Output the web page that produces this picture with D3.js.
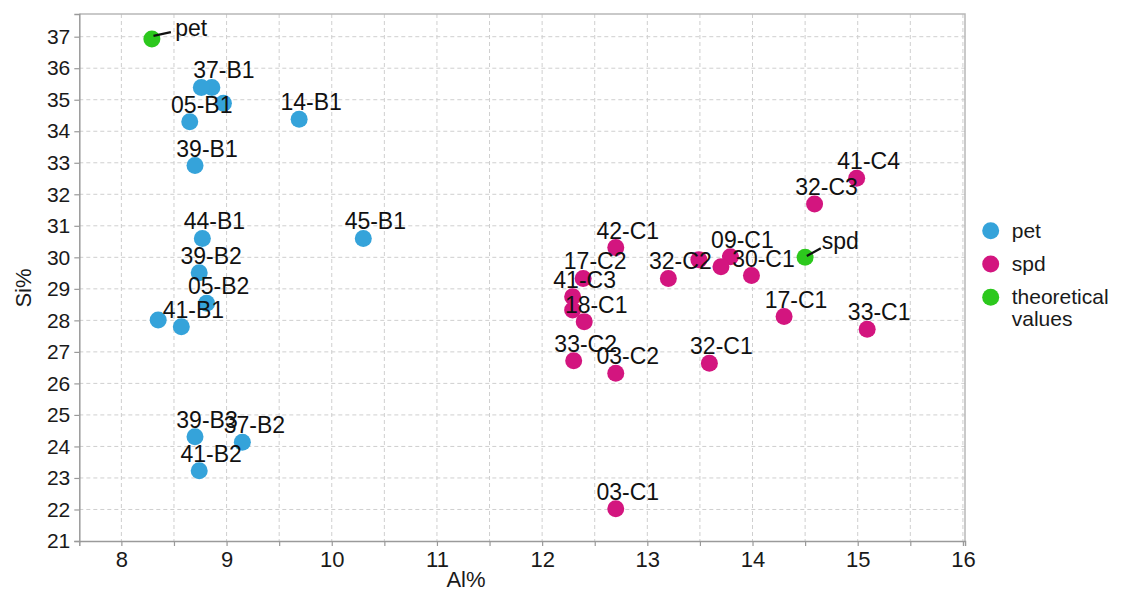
<!DOCTYPE html>
<html>
<head>
<meta charset="utf-8">
<script src="https://cdn.jsdelivr.net/npm/d3@7"></script>
<style>
  html, body { margin: 0; padding: 0; background: #fff; }
  svg { display: block; font-family: "Liberation Sans", Arial, sans-serif; }
</style>
</head>
<body>
<svg id="chart" width="1123" height="592"></svg>
<script>
// Sample measurements (Al% vs Si%). An empty name means the point carries no label.
const petNames = ["37-B1", "", "", "05-B1", "14-B1", "39-B1", "44-B1", "45-B1", "39-B2", "05-B2", "", "41-B1", "39-B3", "37-B2", "41-B2"];
const petAl    = [8.86, 8.76, 8.97, 8.65, 9.69, 8.70, 8.77, 10.30, 8.74, 8.81, 8.35, 8.57, 8.70, 9.15, 8.74];
const petSi    = [35.39, 35.39, 34.89, 34.30, 34.38, 32.91, 30.60, 30.60, 29.51, 28.54, 28.01, 27.80, 24.31, 24.13, 23.23];

const spdNames = ["41-C4", "32-C3", "42-C1", "09-C1", "", "", "32-C2", "30-C1", "17-C2", "41-C3", "", "18-C1", "17-C1", "33-C1", "33-C2", "03-C2", "32-C1", "03-C1"];
const spdAl    = [14.99, 14.59, 12.70, 13.79, 13.49, 13.70, 13.20, 13.99, 12.39, 12.29, 12.29, 12.40, 14.30, 15.09, 12.30, 12.70, 13.59, 12.70];
const spdSi    = [32.51, 31.69, 30.31, 30.02, 29.92, 29.70, 29.33, 29.42, 29.33, 28.75, 28.33, 27.96, 28.12, 27.72, 26.72, 26.32, 26.64, 22.02];

const theoNames = ["pet", "spd"];
const theoAl    = [8.29, 14.50];
const theoSi    = [36.93, 30.00];

const xTicks = [8, 9, 10, 11, 12, 13, 14, 15, 16];
const yTicks = [21, 22, 23, 24, 25, 26, 27, 28, 29, 30, 31, 32, 33, 34, 35, 36, 37];
const legendLabels = [["pet"], ["spd"], ["theoretical", "values"]];

const colors = { pet: "#35a3da", spd: "#d3157f", theo: "#2cc81d" };

const svg = d3.select("#chart");
const plotL = 79.3, plotR = 965, plotT = 14, plotB = 541;

const x = d3.scaleLinear().domain([7.6, 16.02]).range([plotL, plotR]);
const y = d3.scaleLinear().domain([21, 37.72]).range([plotB, plotT]);

// Dashed grid: half-unit verticals, unit horizontals
const grid = svg.append("g").attr("stroke", "#cfcfcf").attr("stroke-width", 1).attr("stroke-dasharray", "4,3");
const xGrid = d3.range(8, 16.01, 0.5);
grid.selectAll("line.v").data(xGrid).join("line").attr("class", "v")
  .attr("x1", d => x(d)).attr("x2", d => x(d)).attr("y1", plotT).attr("y2", plotB);
grid.selectAll("line.h").data(yTicks.slice(1)).join("line").attr("class", "h")
  .attr("x1", plotL).attr("x2", plotR).attr("y1", d => y(d)).attr("y2", d => y(d));

// Plot frame (top and right)
svg.append("path")
  .attr("d", `M${plotL},${plotT}H${plotR}V${plotB}`)
  .attr("fill", "none").attr("stroke", "#b8b8b8").attr("stroke-width", 1.5);

// X axis with labelled unit ticks and unlabelled half ticks
const xAxis = d3.axisBottom(x).tickValues(xGrid).tickSize(5).tickPadding(5)
  .tickFormat(d => Number.isInteger(d) && xTicks.includes(d) ? d : "");
const gx = svg.append("g").attr("transform", `translate(0,${plotB})`).call(xAxis);
gx.select(".domain").attr("stroke", "#9a9a9a").attr("stroke-width", 1.5);
gx.selectAll(".tick line").attr("stroke", "#9a9a9a").attr("stroke-width", 1.2);
gx.selectAll(".tick text").attr("fill", "#1a1a1a").attr("font-size", 22)
  .attr("font-family", "Liberation Sans, Arial, sans-serif");

const yAxis = d3.axisLeft(y).tickValues(yTicks).tickSize(5).tickPadding(4);
const gy = svg.append("g").attr("transform", `translate(${plotL},0)`).call(yAxis);
gy.select(".domain").attr("stroke", "#9a9a9a").attr("stroke-width", 1.5);
gy.selectAll(".tick line").attr("stroke", "#9a9a9a").attr("stroke-width", 1.2);
gy.selectAll(".tick text").attr("fill", "#1a1a1a").attr("font-size", 21)
  .attr("font-family", "Liberation Sans, Arial, sans-serif");

// Axis titles
svg.append("text").attr("x", 466).attr("y", 587)
  .attr("text-anchor", "middle").attr("font-size", 22).attr("fill", "#1a1a1a").text("Al%");
svg.append("text").attr("transform", `translate(31,288) rotate(-90)`)
  .attr("text-anchor", "middle").attr("font-size", 22).attr("fill", "#1a1a1a").text("Si%");

// Points and labels
function drawSeries(names, al, si, color) {
  const data = names.map((n, i) => ({ name: n, al: al[i], si: si[i] }));
  const g = svg.append("g");
  g.selectAll("circle").data(data).join("circle")
    .attr("cx", d => x(d.al)).attr("cy", d => y(d.si)).attr("r", 8.5)
    .attr("fill", color);
  return data;
}
const petData = drawSeries(petNames, petAl, petSi, colors.pet);
const spdData = drawSeries(spdNames, spdAl, spdSi, colors.spd);

const labels = svg.append("g").attr("font-size", 23).attr("fill", "#111").attr("text-anchor", "middle");
labels.selectAll("text").data(petData.concat(spdData).filter(d => d.name)).join("text")
  .attr("x", d => x(d.al) + 12).attr("y", d => y(d.si) - 9)
  .text(d => d.name);

// Theoretical values with leader lines
const theoData = drawSeries(theoNames, theoAl, theoSi, colors.theo);
const leader = [
  { from: [1.6, -3], to: [19, -6.7], text: [23.3, -3] },
  { from: [1.7, -1.3], to: [15.7, -9], text: [16.7, -8] }
];
theoData.forEach((d, i) => {
  const cx = x(d.al), cy = y(d.si), L = leader[i];
  svg.append("line")
    .attr("x1", cx + L.from[0]).attr("y1", cy + L.from[1])
    .attr("x2", cx + L.to[0]).attr("y2", cy + L.to[1])
    .attr("stroke", "#111").attr("stroke-width", 2.2);
  svg.append("text").attr("x", cx + L.text[0]).attr("y", cy + L.text[1])
    .attr("font-size", 23).attr("fill", "#111").text(d.name);
});

// Legend
const legend = svg.append("g").attr("transform", "translate(990.7,230.7)");
const legColors = [colors.pet, colors.spd, colors.theo];
legendLabels.forEach((lines, i) => {
  const ly = i * 33.3;
  legend.append("circle").attr("cx", 0).attr("cy", ly).attr("r", 8.5).attr("fill", legColors[i]);
  const t = legend.append("text").attr("x", 21).attr("y", ly + 7)
    .attr("font-size", 21).attr("fill", "#1a1a1a");
  lines.forEach((ln, j) => {
    t.append("tspan").attr("x", 21).attr("dy", j === 0 ? 0 : 22).text(ln);
  });
});
</script>
</body>
</html>
